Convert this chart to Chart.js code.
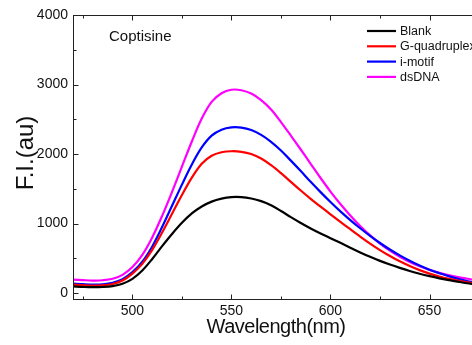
<!DOCTYPE html>
<html>
<head>
<meta charset="utf-8">
<script src="https://cdn.jsdelivr.net/npm/chart.js@4.4.0/dist/chart.umd.min.js"></script>
<style>
  html, body { margin: 0; padding: 0; overflow: hidden; background: #fff; }
</style>
</head>
<body>
<canvas id="grafico" width="482" height="345"></canvas>
<script>
// comprimento de onda (nm)
const comprimentos = [470, 475, 480, 485, 490, 495, 500, 505, 510, 515, 520, 525, 530, 535, 540, 545, 550, 555, 560, 565, 570,
  575, 580, 585, 590, 595, 600, 605, 610, 615, 620, 625, 630, 635, 640, 645, 650, 655, 660, 665, 670, 675];

const blank = [95, 88, 84, 87, 100, 135, 205, 325, 490, 675, 850, 1010, 1145, 1245, 1315, 1358, 1380, 1380, 1360, 1322, 1262,
  1180, 1092, 1008, 930, 858, 790, 722, 653, 585, 522, 463, 410, 362, 318, 278, 243, 212, 185, 160, 137, 118];
const gQuadruplex = [122, 113, 108, 112, 130, 180, 280, 420, 620, 870, 1140, 1410, 1660, 1860, 1975, 2025, 2040, 2032, 2000, 1935, 1840,
  1725, 1600, 1475, 1355, 1243, 1133, 1025, 918, 813, 712, 618, 533, 456, 389, 330, 280, 238, 204, 176, 152, 133];
const iMotif = [137, 128, 122, 126, 148, 200, 300, 450, 670, 950, 1255, 1560, 1850, 2095, 2265, 2350, 2383, 2380, 2345, 2275, 2175,
  2050, 1905, 1755, 1600, 1452, 1310, 1175, 1050, 932, 822, 720, 627, 542, 465, 395, 335, 285, 240, 200, 165, 140];
const dsDNA = [194, 186, 180, 184, 205, 262, 375, 550, 800, 1110, 1455, 1820, 2180, 2510, 2750, 2875, 2925, 2918, 2870, 2775, 2640,
  2460, 2265, 2065, 1860, 1655, 1460, 1280, 1115, 965, 830, 712, 610, 522, 447, 385, 333, 290, 255, 226, 202, 182];

const nomes = ['Blank', 'G-quadruplex', 'i-motif', 'dsDNA'];
const cores = ['#000000', '#ff0000', '#0000ff', '#ff00ff'];

const xTicks = [500, 550, 600, 650];
const xMenores = [475, 525, 575, 625, 675];
const yTicks = [0, 1000, 2000, 3000, 4000];
const yMenores = [500, 1500, 2500, 3500];

const fonte = '"Liberation Sans", Arial, sans-serif';

const series = [blank, gQuadruplex, iMotif, dsDNA];

// eixos com ticks para dentro, moldura, titulos e legenda
const molduraPlugin = {
  id: 'moldura',
  afterDraw(chart) {
    const { ctx, chartArea: a, scales: { x, y } } = chart;
    ctx.save();
    ctx.strokeStyle = '#222';
    ctx.lineWidth = 1;
    ctx.beginPath();
    const l = a.left + 0.5, b = a.bottom - 0.5, t = a.top + 0.5;
    ctx.moveTo(l, t); ctx.lineTo(l, b + 0.5);
    ctx.moveTo(l - 0.5, b); ctx.lineTo(a.right, b);
    ctx.moveTo(l - 0.5, t); ctx.lineTo(a.right, t);
    xTicks.forEach(v => {
      const px = Math.round(x.getPixelForValue(v)) + 0.5;
      ctx.moveTo(px, b); ctx.lineTo(px, b - 5);
      ctx.moveTo(px, t); ctx.lineTo(px, t + 5);
    });
    xMenores.forEach(v => {
      const px = Math.round(x.getPixelForValue(v)) + 0.5;
      ctx.moveTo(px, b); ctx.lineTo(px, b - 3);
      ctx.moveTo(px, t); ctx.lineTo(px, t + 3);
    });
    yTicks.forEach(v => {
      const py = Math.round(y.getPixelForValue(v)) + 0.5;
      ctx.moveTo(l, py); ctx.lineTo(l + 5, py);
    });
    yMenores.forEach(v => {
      const py = Math.round(y.getPixelForValue(v)) + 0.5;
      ctx.moveTo(l, py); ctx.lineTo(l + 3, py);
    });
    ctx.stroke();

    ctx.fillStyle = '#111';
    ctx.font = '20px ' + fonte;
    ctx.textAlign = 'center';
    ctx.textBaseline = 'alphabetic';
    ctx.letterSpacing = '-0.5px';
    ctx.fillText('Wavelength(nm)', 276, 333);
    ctx.letterSpacing = '0px';

    ctx.save();
    ctx.translate(26, 153);
    ctx.rotate(-Math.PI / 2);
    ctx.font = '24px ' + fonte;
    ctx.textBaseline = 'middle';
    ctx.fillText('F.I.(au)', 0, 0);
    ctx.restore();

    ctx.font = '15px ' + fonte;
    ctx.textAlign = 'left';
    ctx.fillText('Coptisine', 109, 41);

    ctx.font = '12.5px ' + fonte;
    ctx.textBaseline = 'middle';
    chart.data.datasets.forEach((ds, i) => {
      const ly = 31 + i * 15.3;
      ctx.strokeStyle = ds.borderColor;
      ctx.lineWidth = 2.2;
      ctx.beginPath();
      ctx.moveTo(367, ly); ctx.lineTo(396, ly);
      ctx.stroke();
      ctx.fillStyle = '#111';
      ctx.fillText(ds.label, 400, ly + 0.5);
    });
    ctx.restore();
  }
};

new Chart(document.getElementById('grafico').getContext('2d'), {
  type: 'line',
  data: {
    datasets: series.map((s, i) => ({
      label: nomes[i],
      data: comprimentos.map((c, j) => ({ x: c, y: s[j] })),
      borderColor: cores[i],
      borderWidth: 2.2,
      pointRadius: 0,
      tension: 0.35,
      fill: false
    }))
  },
  options: {
    responsive: false,
    animation: false,
    devicePixelRatio: 1,
    layout: { padding: { top: 15, right: 1, left: 0, bottom: 0 } },
    plugins: { legend: { display: false }, tooltip: { enabled: false } },
    scales: {
      x: {
        type: 'linear',
        min: 470,
        max: 676,
        grid: { display: false, drawTicks: false },
        border: { display: false },
        afterBuildTicks: scale => { scale.ticks = xTicks.map(v => ({ value: v })); },
        afterFit: scale => { scale.height = 45; },
        ticks: {
          padding: 3,
          maxRotation: 0,
          color: '#111',
          font: { family: fonte, size: 14 },
          callback: v => String(v)
        }
      },
      y: {
        min: -100,
        max: 4000,
        grid: { display: false, drawTicks: false },
        border: { display: false },
        afterBuildTicks: scale => { scale.ticks = yTicks.map(v => ({ value: v })); },
        afterFit: scale => { scale.width = 73; },
        ticks: {
          padding: 5,
          color: '#111',
          font: { family: fonte, size: 14 },
          callback: v => String(v)
        }
      }
    }
  },
  plugins: [molduraPlugin]
});
</script>
</body>
</html>
